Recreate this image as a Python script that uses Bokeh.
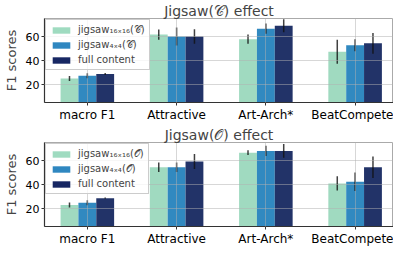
from bokeh.plotting import figure
from bokeh.layouts import column
from bokeh.models import Range1d, FixedTicker, Legend, LegendItem
from bokeh.embed import file_html
from bokeh.resources import INLINE

categories = ["macro F1", "Attractive", "Art-Arch*", "BeatCompete"]
series_names_C = ["jigsaw₁₆ₓ₁₆(𝒞)", "jigsaw₄ₓ₄(𝒞)", "full content"]
series_names_O = ["jigsaw₁₆ₓ₁₆(𝒪)", "jigsaw₄ₓ₄(𝒪)", "full content"]

# Top panel: Jigsaw(C) effect
c_16 = [25.0, 61.6, 57.8, 47.3]
c_4 = [27.3, 60.0, 66.5, 52.7]
c_full = [28.8, 60.0, 68.9, 54.3]
c_16_err = [2.0, 4.3, 3.8, 10.0]
c_4_err = [2.1, 7.6, 4.3, 5.0]
c_full_err = [0.8, 6.0, 5.4, 8.7]

# Bottom panel: Jigsaw(O) effect
o_16 = [22.9, 54.4, 66.5, 40.9]
o_4 = [24.8, 54.4, 68.0, 42.3]
o_full = [28.6, 59.2, 68.0, 54.4]
o_16_err = [2.0, 4.0, 2.0, 6.0]
o_4_err = [2.0, 4.0, 4.3, 7.8]
o_full_err = [0.5, 6.3, 5.8, 9.0]

colors = ["#a0dac0", "#3189c0", "#223368"]
legend_colors = ["#9fdbc0", "#2f87c0", "#172763"]
FONT = "DejaVu Sans"


def make_panel(title, names, vals, errs):
    p = figure(frame_width=349, frame_height=84, output_backend="svg", toolbar_location=None,
               x_range=Range1d(-0.48, 3.43), y_range=Range1d(5, 75),
               title=title, min_border_left=0, min_border_right=0,
               min_border_top=0, min_border_bottom=0)
    p.title.text_font = FONT
    p.title.text_font_size = "14px"
    p.title.text_font_style = "normal"
    p.title.align = "center"
    p.title.standoff = 0
    p.title.offset = 0
    offsets = [-0.2, 0.0, 0.2]
    items = []
    for k in range(3):
        xs = [i + offsets[k] for i in range(len(categories))]
        p.vbar(x=xs, top=vals[k], bottom=0, width=0.2, fill_color=colors[k],
               line_color=None)
        p.segment(x0=xs, y0=[v - e for v, e in zip(vals[k], errs[k])],
                  x1=xs, y1=[v + e for v, e in zip(vals[k], errs[k])],
                  line_color="#111111", line_alpha=0.8, line_width=1.5)
        dummy = p.rect(x=[-10], y=[-10], width=0.1, height=0.1, fill_color=legend_colors[k],
                       line_color=None)
        items.append(LegendItem(label=names[k], renderers=[dummy]))
    legend = Legend(items=items, location="top_left", label_text_font=FONT,
                    label_text_font_size="10px", glyph_width=22, glyph_height=8,
                    label_standoff=6, spacing=3, padding=4, margin=1,
                    background_fill_alpha=0.8, border_line_color="#cccccc",
                    border_line_alpha=1.0, label_height=10)
    p.add_layout(legend)
    p.xaxis.ticker = FixedTicker(ticks=list(range(len(categories))))
    p.xaxis.major_label_overrides = {i: c for i, c in enumerate(categories)}
    p.yaxis.ticker = FixedTicker(ticks=[20, 40, 60])
    for ax in (p.xaxis, p.yaxis):
        ax.major_label_text_font = FONT
        ax.major_label_text_font_size = "12px"
        ax.major_label_text_color = "#000000"
        ax.axis_line_color = "#333333"
        ax.axis_line_width = 1.2
        ax.major_tick_line_color = "#333333"
        ax.major_tick_in = 0
        ax.major_tick_out = 3
        ax.minor_tick_line_color = None
    p.yaxis.major_label_text_font_size = "11px"
    p.xaxis.major_label_standoff = 2
    p.yaxis.major_label_standoff = 2
    p.yaxis.axis_label = "F1 scores"
    p.yaxis.axis_label_text_font = FONT
    p.yaxis.axis_label_text_font_size = "13px"
    p.yaxis.axis_label_text_font_style = "normal"
    p.yaxis.axis_label_standoff = 4
    for g in (p.xgrid, p.ygrid):
        g.grid_line_color = "#b0b0b0"
        g.grid_line_alpha = 0.5
        g.grid_line_width = 1
        g.level = "guide"
    p.xgrid.ticker = FixedTicker(ticks=list(range(len(categories))))
    p.ygrid.ticker = FixedTicker(ticks=[20, 40, 60])
    p.outline_line_color = "#aaaaaa"
    p.outline_line_width = 1
    return p


p1 = make_panel("Jigsaw(𝒞) effect", series_names_C, [c_16, c_4, c_full],
                [c_16_err, c_4_err, c_full_err])
p2 = make_panel("Jigsaw(𝒪) effect", series_names_O, [o_16, o_4, o_full],
                [o_16_err, o_4_err, o_full_err])
layout = column(p1, p2, spacing=0)
open("out.html", "w").write(file_html(layout, INLINE))
